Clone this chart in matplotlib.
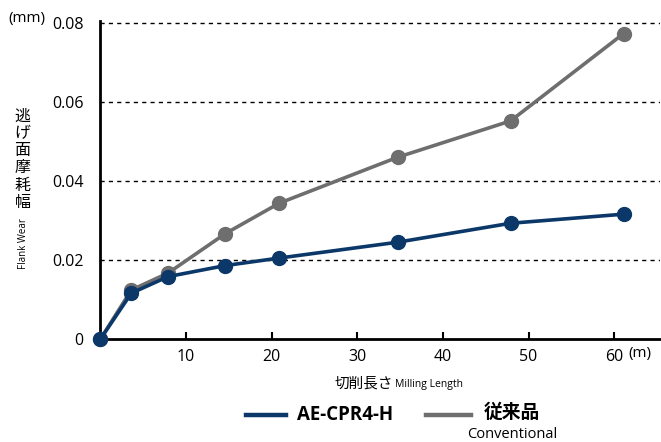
import matplotlib
matplotlib.use('Agg')
import matplotlib.pyplot as plt
from matplotlib.lines import Line2D

# milling length (m) and flank wear (mm)
length = [0, 3.6, 7.9, 14.6, 20.9, 34.7, 47.9, 61.1]
wearNew = [0, 0.0116, 0.0158, 0.0186, 0.0205, 0.0245, 0.0293, 0.0316]
wearOld = [0, 0.0124, 0.0167, 0.0267, 0.0344, 0.0460, 0.0552, 0.0773]
xTicks = [10, 20, 30, 40, 50, 60]
yTicks = [0, 0.02, 0.04, 0.06, 0.08]
yTickLabels = ['0', '0.02', '0.04', '0.06', '0.08']

blue = '#0b3868'
gray = '#6e6e6e'
jp = ['Noto Sans CJK JP', 'DejaVu Sans']
num = ['Open Sans', 'DejaVu Sans']

f = plt.figure(figsize=(6.61, 4.42), dpi=100)
ax = f.add_axes([0.152, 0.233, 0.847, 0.7195])

ax.plot(length, wearOld, color=gray, lw=2.6, marker='o', ms=10, clip_on=False, zorder=3)
ax.plot(length, wearNew, color=blue, lw=2.6, marker='o', ms=10, clip_on=False, zorder=4)

ax.set_xlim(0, 65.4)
ax.set_ylim(0, 0.0805)
ax.set_xticks(xTicks)
ax.set_xticklabels([str(t) for t in xTicks], fontfamily=num, fontsize=11.5)
ax.set_yticks(yTicks)
ax.set_yticklabels(yTickLabels, fontfamily=num, fontsize=11.5)
ax.tick_params(axis='x', direction='in', length=5, width=1.5, pad=7)
ax.tick_params(axis='y', length=0, pad=12)
for s in ['top', 'right']:
    ax.spines[s].set_visible(False)
for s in ['left', 'bottom']:
    ax.spines[s].set_linewidth(2)
for y in yTicks[1:]:
    ax.axhline(y, color='black', lw=1, ls=(0, (3, 3)), zorder=1)

# axis labels
f.text(0.012, 0.958, '(mm)', fontfamily=num, fontsize=11, ha='left', va='center')
f.text(0.034, 0.64, '\n'.join('逃げ面摩耗幅'), fontfamily=jp, fontsize=11.5,
       ha='center', va='center', linespacing=1.02)
f.text(0.036, 0.45, 'Flank Wear', fontfamily=num, fontsize=7, rotation=90, ha='center', va='center')
f.text(0.968, 0.2, '(m)', fontfamily=num, fontsize=11, ha='center', va='center')
f.text(0.595, 0.133, '切削長さ', fontfamily=jp, fontsize=10.5, ha='right', va='center')
f.text(0.598, 0.13, 'Milling Length', fontfamily=num, fontsize=7.5, ha='left', va='center')

# legend
f.add_artist(Line2D([0.372, 0.432], [0.061, 0.061], color=blue, lw=3.2, transform=f.transFigure))
f.text(0.449, 0.061, 'AE-CPR4-H', fontfamily=num, fontsize=13.5, fontweight='bold', ha='left', va='center')
f.add_artist(Line2D([0.645, 0.712], [0.061, 0.061], color=gray, lw=3.2, transform=f.transFigure))
f.text(0.775, 0.066, '従来品', fontfamily=jp, fontsize=13.5, fontweight='bold', ha='center', va='center')
f.text(0.775, 0.016, 'Conventional', fontfamily=num, fontsize=10.5, ha='center', va='center')

plt.savefig('out.png', dpi=100)
